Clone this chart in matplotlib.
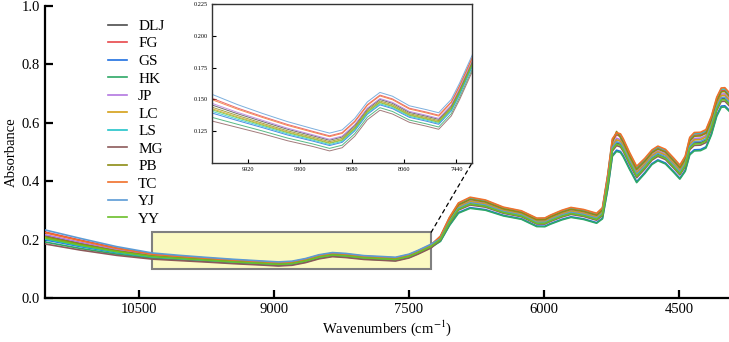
import matplotlib
matplotlib.use('Agg')
import matplotlib.pyplot as plt
from matplotlib.patches import Rectangle, ConnectionPatch

plt.rcParams['font.family'] = ['Liberation Serif', 'DejaVu Serif']
plt.rcParams['mathtext.fontset'] = 'stix'

# Wavenumbers (cm-1) at which the spectra were read
wavenumbers = [11544, 11150, 10750, 10350, 10050, 9750, 9450, 9150, 8950, 8800,
               8650, 8500, 8350, 8200, 8000, 7800, 7650, 7500, 7400, 7253,
               7150, 7050, 6950, 6820, 6650, 6450, 6250, 6080, 5990, 5930,
               5800, 5700, 5560, 5415, 5350, 5290, 5240, 5193, 5150, 5120,
               5050, 4970, 4880, 4800, 4734, 4650, 4560, 4490, 4430, 4380,
               4330, 4260, 4200, 4140, 4080, 4030, 3990, 3944]

names = ['DLJ', 'FG', 'GS', 'HK', 'JP', 'LC', 'LS', 'MG', 'PB', 'TC', 'YJ', 'YY']
colors = ['#4d4d4d', '#e8474a', '#1f6fe0', '#2ea866', '#b377e0', '#d4a017',
          '#22c3c9', '#8c5a5a', '#8c8c14', '#f0702a', '#5b9bd5', '#6bbf2a']

DLJ = [.2138, .1880, .1640, .1456, .1388, .1326, .1265, .1214, .1179, .1204,
       .1294, .1424, .1499, .1469, .1398, .1368, .1343, .1448, .1578, .1793,
       .2019, .2603, .3059, .3237, .3159, .2942, .2823, .2573, .2572, .2661,
       .2820, .2910, .2840, .2710, .2877, .3970, .5114, .5310, .5262, .5113,
       .4665, .4196, .4489, .4790, .4920, .4810, .4521, .4281, .4569, .5164,
       .5312, .5322, .5412, .5862, .6511, .6820, .6830, .6682]
FG = [.2258, .1980, .1715, .1509, .1433, .1366, .1303, .1249, .1214, .1239,
      .1329, .1459, .1534, .1504, .1431, .1401, .1376, .1481, .1611, .1826,
      .2095, .2721, .3206, .3397, .3306, .3068, .2944, .2694, .2698, .2792,
      .2959, .3052, .2982, .2852, .3037, .4180, .5366, .5588, .5530, .5373,
      .4909, .4432, .4707, .5000, .5130, .5020, .4726, .4483, .4787, .5416,
      .5577, .5587, .5677, .6130, .6784, .7098, .7108, .6950]
GS = [.1994, .1760, .1550, .1393, .1334, .1278, .1220, .1172, .1137, .1162,
      .1252, .1382, .1457, .1427, .1359, .1329, .1304, .1409, .1539, .1754,
      .1951, .2497, .2926, .3093, .3026, .2828, .2712, .2462, .2458, .2544,
      .2695, .2780, .2710, .2580, .2733, .3780, .4886, .5060, .5018, .4877,
      .4445, .3984, .4291, .4600, .4730, .4620, .4334, .4099, .4371, .4936,
      .5073, .5083, .5173, .5618, .6264, .6570, .6580, .6438]
HK = [.1917, .1696, .1502, .1359, .1305, .1252, .1196, .1150, .1115, .1140,
      .1230, .1360, .1435, .1405, .1338, .1308, .1283, .1388, .1518, .1733,
      .1940, .2480, .2905, .3070, .3005, .2810, .2695, .2445, .2440, .2525,
      .2675, .2760, .2690, .2560, .2710, .3750, .4850, .5020, .4980, .4840,
      .4410, .3950, .4260, .4570, .4700, .4590, .4305, .4070, .4340, .4900,
      .5035, .5045, .5135, .5580, .6225, .6530, .6540, .6400]
JP = [.2167, .1904, .1658, .1469, .1399, .1336, .1274, .1222, .1187, .1212,
      .1302, .1432, .1507, .1477, .1406, .1376, .1351, .1456, .1586, .1801,
      .2062, .2670, .3143, .3328, .3243, .3014, .2892, .2642, .2644, .2736,
      .2899, .2991, .2921, .2791, .2968, .4090, .5258, .5469, .5415, .5262,
      .4804, .4331, .4614, .4910, .5040, .4930, .4638, .4396, .4694, .5308,
      .5463, .5473, .5563, .6015, .6667, .6979, .6989, .6835]
LC = [.2071, .1824, .1598, .1427, .1363, .1304, .1244, .1194, .1159, .1184,
      .1274, .1404, .1479, .1449, .1380, .1350, .1325, .1430, .1560, .1775,
      .2048, .2648, .3115, .3298, .3215, .2990, .2869, .2619, .2620, .2711,
      .2873, .2964, .2894, .2764, .2938, .4050, .5210, .5416, .5364, .5212,
      .4758, .4286, .4572, .4870, .5000, .4890, .4599, .4358, .4652, .5260,
      .5413, .5423, .5513, .5964, .6615, .6926, .6936, .6784]
LS = [.2023, .1784, .1568, .1406, .1345, .1288, .1229, .1180, .1145, .1170,
      .1260, .1390, .1465, .1435, .1367, .1337, .1312, .1417, .1547, .1762,
      .2109, .2743, .3234, .3427, .3334, .3092, .2968, .2718, .2722, .2816,
      .2985, .3080, .3010, .2880, .3067, .4220, .5414, .5640, .5582, .5423,
      .4955, .4476, .4749, .5040, .5170, .5060, .4766, .4521, .4829, .5464,
      .5627, .5637, .5727, .6182, .6836, .7150, .7160, .7002]
MG = [.1850, .1640, .1460, .1330, .1280, .1230, .1175, .1130, .1095, .1120,
      .1210, .1340, .1415, .1385, .1320, .1290, .1265, .1370, .1500, .1715,
      .1994, .2564, .3010, .3184, .3110, .2900, .2782, .2532, .2530, .2618,
      .2774, .2862, .2792, .2662, .2824, .3900, .5030, .5218, .5172, .5026,
      .4584, .4118, .4416, .4720, .4850, .4740, .4452, .4214, .4496, .5080,
      .5224, .5234, .5324, .5772, .6420, .6728, .6738, .6592]
PB = [.2100, .1848, .1616, .1439, .1374, .1313, .1253, .1203, .1168, .1193,
      .1283, .1413, .1488, .1458, .1388, .1358, .1333, .1438, .1568, .1783,
      .2084, .2704, .3185, .3374, .3285, .3050, .2927, .2677, .2680, .2773,
      .2939, .3032, .2962, .2832, .3014, .4150, .5330, .5700, .5492, .5336,
      .4874, .4398, .4676, .4970, .5100, .4990, .4697, .4454, .4756, .5380,
      .5539, .5549, .5639, .6092, .6745, .7058, .7068, .6912]
TC = [.2234, .1960, .1700, .1498, .1424, .1358, .1295, .1242, .1207, .1232,
      .1322, .1452, .1527, .1497, .1424, .1394, .1369, .1474, .1604, .1819,
      .2120, .2760, .3255, .3450, .3355, .3110, .2985, .2735, .2740, .2835,
      .3005, .3100, .3030, .2900, .3090, .4250, .5450, .5660, .5620, .5460,
      .4990, .4510, .4780, .5070, .5200, .5090, .4795, .4550, .4860, .5500,
      .5665, .5675, .5765, .6220, .6875, .7190, .7200, .7040]
YJ = [.2330, .2040, .1760, .1540, .1460, .1390, .1325, .1270, .1235, .1260,
      .1350, .1480, .1555, .1525, .1450, .1420, .1395, .1500, .1630, .1845,
      .2030, .2620, .3080, .3260, .3180, .2960, .2840, .2590, .2590, .2680,
      .2840, .2930, .2860, .2730, .2900, .4000, .5150, .5350, .5300, .5150,
      .4700, .4230, .4520, .4820, .4950, .4840, .4550, .4310, .4600, .5200,
      .5350, .5360, .5450, .5900, .6550, .6860, .6870, .6720]
YY = [.2052, .1808, .1586, .1418, .1356, .1297, .1238, .1189, .1154, .1179,
      .1269, .1399, .1474, .1444, .1375, .1345, .1320, .1425, .1555, .1770,
      .2008, .2586, .3038, .3214, .3138, .2924, .2805, .2555, .2554, .2643,
      .2800, .2889, .2819, .2689, .2854, .3940, .5078, .5271, .5223, .5076,
      .4630, .4163, .4458, .4760, .4890, .4780, .4491, .4252, .4538, .5128,
      .5274, .5284, .5374, .5823, .6472, .6781, .6791, .6643]

spectra = [DLJ, FG, GS, HK, JP, LC, LS, MG, PB, TC, YJ, YY]

# zoom window
zoom_x = (10350, 7253)
zoom_y = (0.10, 0.225)
inset_xticks = [9920, 9300, 8680, 8060, 7440]
inset_yticks = [0.125, 0.150, 0.175, 0.200, 0.225]

fig = plt.figure(figsize=(7.29, 3.42), dpi=100)
ax = fig.add_axes([0.0617, 0.1287, 0.9383, 0.854])

for name, col, spec in zip(names, colors, spectra):
    ax.plot(wavenumbers, spec, color=col, lw=1.2, label=name, zorder=3)

ax.set_xlim(11544, 3944)
ax.set_ylim(0, 1.0)
ax.set_xticks([10500, 9000, 7500, 6000, 4500])
ax.set_yticks([0.0, 0.2, 0.4, 0.6, 0.8, 1.0])
ax.yaxis.set_major_formatter(plt.FormatStrFormatter('%.1f'))
ax.spines['top'].set_visible(False)
ax.spines['right'].set_visible(False)
for s in ['left', 'bottom']:
    ax.spines[s].set_linewidth(1.6)
ax.tick_params(direction='in', length=6, width=1.6, labelsize=10.5)
ax.set_xlabel('Wavenumbers (cm$^{-1}$)', fontsize=10.5, labelpad=2)
ax.set_ylabel('Absorbance', fontsize=10.5, labelpad=3)

# highlighted region
rect = Rectangle((zoom_x[1], zoom_y[0]), zoom_x[0] - zoom_x[1], zoom_y[1] - zoom_y[0],
                 facecolor='#fbf9c2', edgecolor='#808080', lw=1.5, zorder=2)
ax.add_patch(rect)

leg = ax.legend(loc='upper left', bbox_to_anchor=(0.138, 0.966),
                bbox_transform=fig.transFigure, frameon=False, fontsize=11,
                handlelength=1.2, handletextpad=0.75, labelspacing=0.25,
                borderpad=0)

# inset
axin = fig.add_axes([0.2908, 0.5234, 0.3567, 0.4649])
for name, col, spec in zip(names, colors, spectra):
    axin.plot(wavenumbers, spec, color=col, lw=0.7, alpha=0.8)
axin.set_xlim(*zoom_x)
axin.set_ylim(*zoom_y)
axin.set_xticks(inset_xticks)
axin.set_yticks(inset_yticks)
axin.yaxis.set_major_formatter(plt.FormatStrFormatter('%.3f'))
axin.tick_params(direction='in', length=3, width=0.8, labelsize=4.5, pad=3)
for s in axin.spines.values():
    s.set_linewidth(1.0)
    s.set_color('#333333')

con = ConnectionPatch(xyA=(zoom_x[1], zoom_y[1]), coordsA=ax.transData,
                      xyB=(1, 0), coordsB=axin.transAxes,
                      linestyle=(0, (3, 3)), color='black', lw=0.9)
fig.add_artist(con)

fig.savefig('out.png', dpi=100)
